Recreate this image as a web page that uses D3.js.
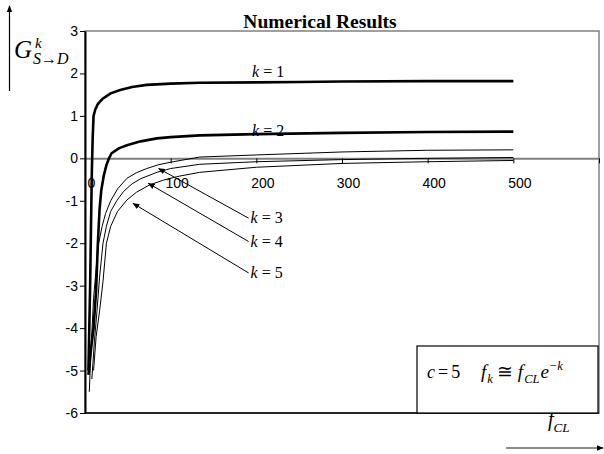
<!DOCTYPE html>
<html>
<head>
<meta charset="utf-8">
<script src="https://cdn.jsdelivr.net/npm/d3@7"></script>
<style>
  body { margin: 0; background: #fff; }
  svg { display: block; }
</style>
</head>
<body>
<svg id="chart" width="604" height="454"></svg>
<script>
// --- Data: [f_CL, G]
const k1 = [[4,-5.0],[5,-4.0],[6,-3.0],[7,-1.6],[8,-0.3],[9,0.5],[10,1.0],[12,1.15],[15,1.28],[21,1.41],[30,1.53],[41,1.61],[55,1.68],[72,1.73],[100,1.76],[134,1.78],[200,1.79],[250,1.80],[300,1.81],[400,1.82],[500,1.82]];
const k2 = [[4,-5.1],[7,-4.5],[10,-4.0],[13,-3.1],[15,-2.0],[17,-1.2],[19,-0.75],[22,-0.4],[25,-0.16],[28,0.0],[31,0.12],[40,0.24],[49,0.31],[65,0.4],[84,0.47],[100,0.5],[134,0.54],[200,0.57],[300,0.6],[400,0.62],[500,0.63]];
const k3 = [[5,-5.5],[7,-4.5],[10,-3.3],[13,-2.6],[16,-2.0],[20,-1.6],[24,-1.3],[30,-1.0],[38,-0.72],[49,-0.47],[60,-0.34],[72,-0.24],[86,-0.15],[103,-0.08],[134,0.03],[200,0.08],[300,0.15],[400,0.19],[500,0.2]];
const k4 = [[8,-5.2],[11,-4.3],[14,-3.6],[17,-2.8],[21,-2.0],[25,-1.6],[30,-1.25],[37,-1.0],[45,-0.78],[55,-0.6],[65,-0.48],[84,-0.33],[100,-0.24],[134,-0.14],[200,-0.08],[300,-0.03],[400,0.0],[500,0.02]];
const k5 = [[10,-5.0],[13,-4.2],[17,-3.6],[21,-2.9],[25,-2.0],[30,-1.6],[38,-1.25],[49,-0.98],[60,-0.8],[75,-0.63],[92,-0.51],[110,-0.42],[134,-0.33],[200,-0.21],[300,-0.12],[400,-0.08],[500,-0.05]];

const xTicks = [0, 100, 200, 300, 400, 500, 600];
const yTicks = [-6, -5, -4, -3, -2, -1, 0, 1, 2, 3];

const serif = "'Liberation Serif', 'Times New Roman', serif";
const sans = "'Liberation Sans', Arial, sans-serif";

const svg = d3.select("#chart");

const x = d3.scaleLinear().domain([0, 600]).range([85, 599]);
const y = d3.scaleLinear().domain([-6, 3]).range([413, 31]);

// --- arrow heads
const defs = svg.append("defs");
defs.append("marker")
  .attr("id", "head")
  .attr("viewBox", "0 0 10 10")
  .attr("refX", 9).attr("refY", 5)
  .attr("markerWidth", 7).attr("markerHeight", 7)
  .attr("markerUnits", "userSpaceOnUse")
  .attr("orient", "auto")
  .append("path")
  .attr("d", "M0,1 L10,5 L0,9 Z")
  .attr("fill", "#000");

// --- plot frame
svg.append("rect")
  .attr("x", x(0)).attr("y", y(3))
  .attr("width", x(600) - x(0)).attr("height", y(-6) - y(3))
  .attr("fill", "none")
  .attr("stroke", "#808080")
  .attr("stroke-width", 1.5);

svg.append("line")
  .attr("x1", x(0)).attr("x2", x(600))
  .attr("y1", y(-6)).attr("y2", y(-6))
  .attr("stroke", "#000").attr("stroke-width", 1.5);

// --- x axis at G = 0
const xAxis = svg.append("g")
  .attr("transform", `translate(0,${y(0)})`)
  .call(d3.axisBottom(x).tickValues(xTicks).tickSize(5).tickSizeOuter(0).tickPadding(15)
    .tickFormat(d => d === 600 ? "" : d));
xAxis.select(".domain").attr("stroke", "#808080").attr("stroke-width", 2);
xAxis.selectAll(".tick line").attr("stroke", "#000");
xAxis.selectAll("text")
  .attr("dx", 6)
  .attr("font-family", sans).attr("font-size", 14).attr("fill", "#000");

// --- y axis
const yAxis = svg.append("g")
  .attr("transform", `translate(${x(0)},0)`)
  .call(d3.axisLeft(y).tickValues(yTicks).tickSize(5).tickSizeOuter(0).tickPadding(2)
    .tickFormat(d => String(d)));
yAxis.select(".domain").attr("stroke", "#000").attr("stroke-width", 2);
yAxis.selectAll(".tick line").attr("stroke", "#000");
yAxis.selectAll("text")
  .attr("font-family", sans).attr("font-size", 14).attr("fill", "#000");

// --- curves
const series = [
  { k: 1, pts: k1, w: 2.6 },
  { k: 2, pts: k2, w: 2.6 },
  { k: 3, pts: k3, w: 1 },
  { k: 4, pts: k4, w: 1 },
  { k: 5, pts: k5, w: 1 }
];

const line = d3.line().x(d => x(d[0])).y(d => y(d[1]));

svg.selectAll(".curve")
  .data(series)
  .enter()
  .append("path")
  .attr("class", "curve")
  .attr("d", d => line(d.pts))
  .attr("fill", "none")
  .attr("stroke", "#000")
  .attr("stroke-width", d => d.w)
  .attr("stroke-linejoin", "round");

// --- rich text helper (italic / sub / sup pieces)
function mathText(sel, px, py, size, parts) {
  const t = sel.append("text")
    .attr("x", px).attr("y", py)
    .attr("font-family", serif).attr("font-size", size).attr("fill", "#000");
  let shift = 0;
  parts.forEach(p => {
    const target = p.sub ? size * 0.28 : p.sup ? -size * 0.42 : 0;
    const ts = t.append("tspan").text(p.t)
      .attr("dy", target - shift)
      .attr("font-size", (p.sub || p.sup) ? size * 0.66 : size)
      .attr("font-style", p.i ? "italic" : "normal");
    if (p.dx) ts.attr("dx", p.dx);
    shift = target;
  });
  return t;
}

// --- k labels
const kLabel = n => [{ t: "k", i: 1 }, { t: " = " + n }];
mathText(svg, x(195), 77, 16, kLabel(1));
mathText(svg, x(195), 136, 16, kLabel(2));

const arrows = [
  { n: 3, tip: [86, -0.24], tail: [191, -1.41] },
  { n: 4, tip: [74, -0.59], tail: [191, -1.96] },
  { n: 5, tip: [56, -1.06], tail: [191, -2.70] }
];

arrows.forEach(a => {
  svg.append("line")
    .attr("x1", x(a.tail[0])).attr("y1", y(a.tail[1]))
    .attr("x2", x(a.tip[0])).attr("y2", y(a.tip[1]))
    .attr("stroke", "#000").attr("stroke-width", 1)
    .attr("marker-end", "url(#head)");
  mathText(svg, x(a.tail[0]) + 2, y(a.tail[1]) + 5, 16, kLabel(a.n));
});

// --- title
svg.append("text")
  .attr("x", 320).attr("y", 28)
  .attr("text-anchor", "middle")
  .attr("font-family", serif).attr("font-weight", "bold").attr("font-size", 19.5)
  .text("Numerical Results");

// --- y label G^k_{S->D} with up arrow
svg.append("line")
  .attr("x1", 9.5).attr("x2", 9.5).attr("y1", 91).attr("y2", 6)
  .attr("stroke", "#000").attr("stroke-width", 1.2)
  .attr("marker-end", "url(#head)");
svg.append("text")
  .attr("x", 14).attr("y", 58)
  .attr("font-family", serif).attr("font-style", "italic").attr("font-size", 25)
  .text("G");
svg.append("text")
  .attr("x", 35).attr("y", 48)
  .attr("font-family", serif).attr("font-style", "italic").attr("font-size", 15)
  .text("k");
mathText(svg, 33, 64, 16, [{ t: "S", i: 1 }, { t: "\u2192" }, { t: "D", i: 1 }]);

// --- x label f_CL with right arrow
svg.append("line")
  .attr("x1", 506).attr("x2", 603).attr("y1", 448).attr("y2", 448)
  .attr("stroke", "#666").attr("stroke-width", 1.5)
  .attr("marker-end", "url(#head)");
mathText(svg, 548, 426, 20, [{ t: "f", i: 1 }, { t: "CL", i: 1, sub: 1 }]);

// --- parameter box
svg.append("rect")
  .attr("x", 417).attr("y", 346)
  .attr("width", 181).attr("height", 67)
  .attr("fill", "#fff").attr("stroke", "#000").attr("stroke-width", 1.2);
mathText(svg, 427, 378, 18, [{ t: "c", i: 1 }, { t: "=", dx: 3 }, { t: "5", dx: 3 }]);
mathText(svg, 481, 378, 19, [
  { t: "f", i: 1 }, { t: "k", i: 1, sub: 1, dx: 1 },
  { t: "\u2245", dx: 4 },
  { t: "f", i: 1, dx: 5 }, { t: "CL", i: 1, sub: 1, dx: 1 },
  { t: "e", i: 1, dx: 1 }, { t: "\u2212k", i: 1, sup: 1 }
]);
</script>
</body>
</html>
